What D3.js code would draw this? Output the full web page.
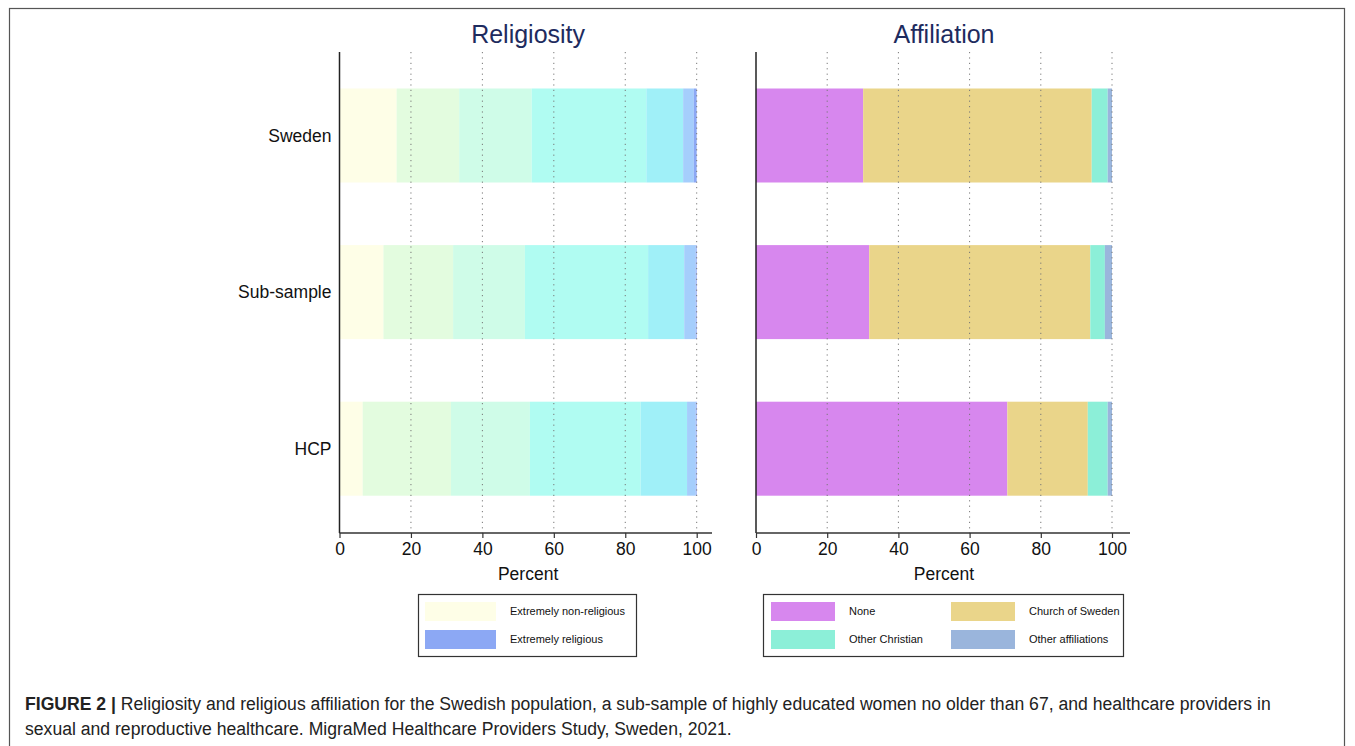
<!DOCTYPE html>
<html><head><meta charset="utf-8">
<script src="https://cdn.jsdelivr.net/npm/d3@7"></script>
<style>
body{margin:0;background:#fff;}
svg{display:block;font-family:"Liberation Sans",Arial,sans-serif;}
</style></head>
<body>
<svg id="c" width="1355" height="746"></svg>
<script>
const groups = ["Sweden", "Sub-sample", "HCP"];
const tickValues = [0, 20, 40, 60, 80, 100];

// Religiosity: 7-point scale from extremely non-religious to extremely religious
const relLevels = ["Extremely non-religious", "R2", "R3", "R4", "R5", "R6", "Extremely religious"];
const relSweden = [16.0, 17.5, 20.3, 32.1, 10.3, 3.0, 0.8];
const relSub    = [12.3, 19.5, 20.1, 34.5, 10.1, 3.2, 0.3];
const relHCP    = [6.5, 24.7, 22.1, 31.0, 13.0, 2.4, 0.3];
const relColors = ["#FEFEE7", "#E3FCDF", "#CFFCE8", "#B0FCF2", "#A0F0F8", "#A5CEFC", "#8CA8F4"];

// Affiliation
const affLevels = ["None", "Church of Sweden", "Other Christian", "Other affiliations"];
const affSweden = [30.1, 64.2, 4.5, 1.2];
const affSub    = [31.8, 62.1, 4.1, 2.0];
const affHCP    = [70.6, 22.6, 5.6, 1.2];
const affColors = ["#D787EE", "#EAD58A", "#8CEFD8", "#9AB5DC"];

(function(){
const svg = d3.select("#c");

svg.append("rect").attr("x", 9.5).attr("y", 8.5).attr("width", 1335).attr("height", 760)
  .attr("fill", "none").attr("stroke", "#555").attr("stroke-width", 1.2);

const plotTop = 52, plotBottom = 533;
const yCenter = d3.scalePoint().domain(groups).range([135.5, 448.7]);
const barH = 94;

function panel(x0, x1, axisEnd, title, levels, rows, colors, showY) {
  const x = d3.scaleLinear().domain([0, 100]).range([x0, x1]);
  const g = svg.append("g");
  g.append("text").attr("x", (x0 + x1) / 2 + 10).attr("y", 43).attr("text-anchor", "middle")
    .attr("font-size", 25).attr("fill", "#1E2B5E").text(title);
  groups.forEach((grp, i) => {
    let cum = 0;
    rows[i].forEach((v, j) => {
      g.append("rect").attr("x", x(cum)).attr("y", yCenter(grp) - barH / 2)
        .attr("width", x(cum + v) - x(cum)).attr("height", barH).attr("fill", colors[j]);
      cum += v;
    });
  });
  g.selectAll(".grid").data(tickValues.filter(d => d > 0)).enter().append("line")
    .attr("x1", d => x(d)).attr("x2", d => x(d)).attr("y1", plotTop).attr("y2", plotBottom)
    .attr("stroke", "#777").attr("stroke-width", 1).attr("stroke-dasharray", "1.2,4.2");
  g.append("line").attr("x1", x0).attr("x2", x0).attr("y1", plotTop).attr("y2", plotBottom)
    .attr("stroke", "#222").attr("stroke-width", 1.5);
  const ax = g.append("g").attr("transform", `translate(0,${plotBottom})`)
    .call(d3.axisBottom(x).tickValues(tickValues).tickSize(5).tickPadding(5).tickFormat(d3.format("d")));
  ax.select(".domain").remove();
  ax.append("line").attr("x1", x0).attr("x2", axisEnd).attr("y1", 0).attr("y2", 0)
    .attr("stroke", "#333").attr("stroke-width", 1.5);
  ax.selectAll(".tick line").attr("stroke", "#333").attr("stroke-width", 1.2);
  ax.selectAll(".tick text").attr("font-size", 17.5).attr("fill", "#111")
    .attr("font-family", "Liberation Sans, Arial, sans-serif");
  g.append("text").attr("x", (x0 + x1) / 2 + 10).attr("y", 580).attr("text-anchor", "middle")
    .attr("font-size", 17.5).attr("fill", "#111").text("Percent");
  if (showY) {
    groups.forEach(grp => {
      g.append("text").attr("x", x0 - 8).attr("y", yCenter(grp)).attr("dy", "0.35em")
        .attr("text-anchor", "end").attr("font-size", 17.5).attr("fill", "#111").text(grp);
    });
  }
  return x;
}

panel(339.5, 696.7, 712, "Religiosity", relLevels, [relSweden, relSub, relHCP], relColors, true);
panel(756, 1112, 1130, "Affiliation", affLevels, [affSweden, affSub, affHCP], affColors, false);

function legend(bx, by, bw, bh, items) {
  const g = svg.append("g");
  g.append("rect").attr("x", bx).attr("y", by).attr("width", bw).attr("height", bh)
    .attr("fill", "#fff").attr("stroke", "#333").attr("stroke-width", 1.2);
  items.forEach(it => {
    g.append("rect").attr("x", it.sx).attr("y", it.sy).attr("width", it.sw).attr("height", 19)
      .attr("fill", it.color);
    g.append("text").attr("x", it.tx).attr("y", it.sy + 9.5).attr("dy", "0.35em")
      .attr("font-size", 11).attr("fill", "#111").text(it.label);
  });
}
legend(418.5, 594.5, 218, 62, [
  {sx: 425, sy: 602, sw: 71, tx: 510, color: relColors[0], label: relLevels[0]},
  {sx: 425, sy: 630, sw: 71, tx: 510, color: relColors[6], label: relLevels[6]}
]);
legend(763.5, 594.5, 360, 62, [
  {sx: 771, sy: 602, sw: 64, tx: 849, color: affColors[0], label: affLevels[0]},
  {sx: 951, sy: 602, sw: 64, tx: 1029, color: affColors[1], label: affLevels[1]},
  {sx: 771, sy: 630, sw: 64, tx: 849, color: affColors[2], label: affLevels[2]},
  {sx: 951, sy: 630, sw: 64, tx: 1029, color: affColors[3], label: affLevels[3]}
]);

const cap = svg.append("text").attr("x", 25).attr("y", 710).attr("font-size", 17.6).attr("fill", "#222");
cap.append("tspan").attr("font-weight", "bold").text("FIGURE 2 | ");
cap.append("tspan").text("Religiosity and religious affiliation for the Swedish population, a sub-sample of highly educated women no older than 67, and healthcare providers in");
svg.append("text").attr("x", 25).attr("y", 735).attr("font-size", 17.6).attr("fill", "#222")
  .text("sexual and reproductive healthcare. MigraMed Healthcare Providers Study, Sweden, 2021.");
})();
</script>
</body></html>
